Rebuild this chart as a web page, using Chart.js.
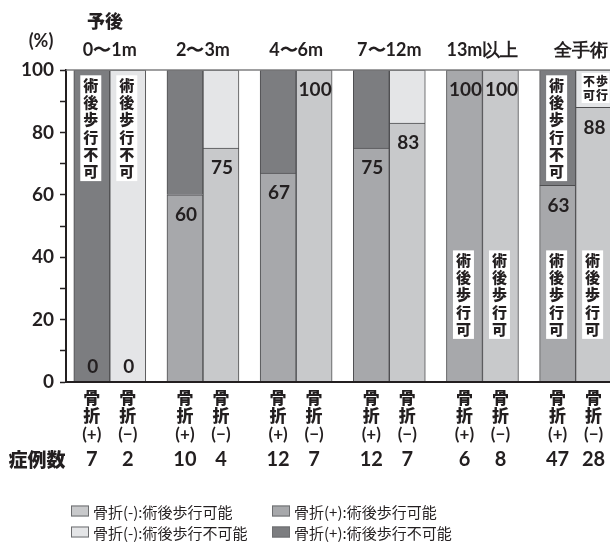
<!DOCTYPE html>
<html><head><meta charset="utf-8">
<script src="https://cdn.jsdelivr.net/npm/chart.js@4"></script>
<style>
html,body{margin:0;padding:0;background:#fff;overflow:hidden;}
#wrap{position:relative;width:640px;height:545px;}
</style></head><body>
<div id="wrap"><canvas id="c" width="640" height="545"></canvas></div>
<script>
// 予後（受傷からの期間）ごとの術後歩行の可否 (%)
const groups = ['0〜1m', '2〜3m', '4〜6m', '7〜12m', '13m以上', '全手術'];
const walkPlus = [0, 60, 67, 75, 100, 63];    // 骨折(+): 術後歩行可能
const walkMinus = [0, 75, 100, 83, 100, 88];  // 骨折(−): 術後歩行可能
const casesPlus = [7, 10, 12, 12, 6, 47];     // 症例数 骨折(+)
const casesMinus = [2, 4, 7, 7, 8, 28];       // 症例数 骨折(−)
const yTickValues = [0, 20, 40, 60, 80, 100];
const seriesLabels = ['骨折(+):術後歩行可能', '骨折(+):術後歩行不可能', '骨折(-):術後歩行可能', '骨折(-):術後歩行不可能'];
// 棒の中の注記: [群, 側, 文言]
const notes = [
  [0, 'plus', '術後歩行不可'], [0, 'minus', '術後歩行不可'],
  [4, 'plus', '術後歩行可'], [4, 'minus', '術後歩行可'],
  [5, 'plus', '術後歩行不可'], [5, 'plus', '術後歩行可'],
  [5, 'minus', '歩行不可'], [5, 'minus', '術後歩行可']
];

const NUM = "Lato, 'Noto Sans', sans-serif";
const CJK = "'Noto Sans CJK JP', 'Noto Sans', sans-serif";
const INK = '#231f20';
const COLORS = ['#a7a8ab', '#7c7d80', '#c8c9cb', '#e4e5e7'];

const pts = arr => arr.map((v, i) => ({x: i, y: v}));
const rest = arr => arr.map((v, i) => ({x: i, y: 100 - v}));

const bar = (label, data, stack, color) => ({
  label, data, stack, backgroundColor: color, borderColor: '#4d4d4f',
  borderWidth: 1, barThickness: 36, borderSkipped: 'start'
});

const overlay = {
  id: 'overlay',
  afterDatasetsDraw(chart) {
    const {ctx, chartArea: ca, scales: {x, y}} = chart;
    const m = i => chart.getDatasetMeta(i).data;
    ctx.save();
    // 枠の上辺
    ctx.strokeStyle = '#7f7f81'; ctx.lineWidth = 1.5;
    ctx.beginPath(); ctx.moveTo(ca.left, ca.top); ctx.lineTo(ca.right, ca.top); ctx.stroke();
    // 下辺
    ctx.strokeStyle = INK; ctx.lineWidth = 2;
    ctx.beginPath(); ctx.moveTo(ca.left, ca.bottom); ctx.lineTo(ca.right, ca.bottom); ctx.stroke();

    ctx.fillStyle = INK; ctx.textAlign = 'center'; ctx.textBaseline = 'middle';
    // 値ラベル
    [[0, walkPlus], [2, walkMinus]].forEach(([di, vals]) => {
      m(di).forEach((el, i) => {
        const v = vals[i];
        const yy = v === 0 ? y.getPixelForValue(0) - 15 : el.y + 20;
        ctx.font = `700 19px ${NUM}`;
        ctx.fillText(String(v), el.x + 1, yy);
      });
    });

    // 注記ボックス
    notes.forEach(([g, side, text]) => {
      const el = m(side === 'plus' ? 0 : 2)[g];
      const cx = el.x - 1;
      const ok = !text.includes('不可');
      if (text === '歩行不可') {
        // 2列の縦書き（右列: 歩行 / 左列: 不可）
        const top = y.getPixelForValue(100) + 3, w = 28, h = 30;
        ctx.fillStyle = '#fff';
        ctx.fillRect(el.x + 2 - w / 2, top, w, h);
        ctx.fillStyle = INK; ctx.font = `900 12px ${CJK}`;
        const cols = [text.slice(0, 2), text.slice(2)];
        cols.forEach((col, ci) => {
          const xx = el.x + 2 + (ci === 0 ? 6.5 : -6.5);
          [...col].forEach((ch, k) => ctx.fillText(ch, xx, top + 8 + k * 14));
        });
        return;
      }
      const chars = [...text];
      const step = 17.3, w = 21, h = chars.length * step + 2;
      const top = ok ? y.getPixelForValue(28) - h / 2 : y.getPixelForValue(98.3);
      ctx.fillStyle = '#fff';
      ctx.fillRect(cx - w / 2, top, w, h);
      ctx.fillStyle = INK; ctx.font = `900 15px ${CJK}`;
      chars.forEach((ch, k) => ctx.fillText(ch, cx, top + 1 + step * (k + 0.5)));
    });

    // 棒の下の見出しと症例数
    ctx.fillStyle = INK;
    [[0, '(+)', casesPlus], [2, '(−)', casesMinus]].forEach(([di, sign, cases]) => {
      m(di).forEach((el, i) => {
        ctx.font = `900 17px ${CJK}`;
        ctx.fillText('骨', el.x, 398);
        ctx.fillText('折', el.x, 416);
        ctx.font = `700 17px ${NUM}`;
        ctx.fillText(sign, el.x, 435);
        ctx.font = `700 20px ${NUM}`;
        ctx.fillText(String(cases[i]), el.x, 460);
      });
    });
    ctx.font = `900 19px ${CJK}`;
    ctx.fillText('症例数', 37, 460);

    // 群の見出し
    groups.forEach((g, i) => {
      ctx.font = `700 18px ${NUM}`;
      let gx = x.getPixelForValue(i);
      if (i === groups.length - 1) gx += 5;
      ctx.fillText(g, gx, 50);
    });
    ctx.font = `900 18px ${CJK}`;
    ctx.fillText('予後', 105, 21);
    ctx.font = `700 18px ${NUM}`;
    ctx.fillText('(%)', 41, 41);

    // 凡例
    const ds = chart.data.datasets;
    const rows = [[2, 0], [3, 1]];
    const colX = [71, 272], rowY = [511, 532];
    ctx.textAlign = 'left';
    ctx.font = `400 15px ${CJK}`;
    rows.forEach((r, ri) => r.forEach((di, ci) => {
      const sx = colX[ci], sy = rowY[ri];
      ctx.fillStyle = ds[di].backgroundColor;
      ctx.fillRect(sx, sy - 5.5, 18, 11);
      ctx.strokeStyle = '#6d6e70'; ctx.lineWidth = 1;
      ctx.strokeRect(sx + 0.5, sy - 5, 17, 10);
      ctx.fillStyle = INK;
      ctx.fillText(ds[di].label, sx + 22, sy + 1);
    }));
    ctx.restore();
  }
};

new Chart(document.getElementById('c'), {
  type: 'bar',
  data: {
    datasets: [
      bar(seriesLabels[0], pts(walkPlus), 'plus', COLORS[0]),
      bar(seriesLabels[1], rest(walkPlus), 'plus', COLORS[1]),
      bar(seriesLabels[2], pts(walkMinus), 'minus', COLORS[2]),
      bar(seriesLabels[3], rest(walkMinus), 'minus', COLORS[3])
    ]
  },
  options: {
    responsive: false,
    animation: false,
    devicePixelRatio: 1,
    layout: {padding: {top: 70, bottom: 163, left: 0, right: 15}},
    plugins: {legend: {display: false}, tooltip: {enabled: false}},
    scales: {
      x: {
        type: 'linear', min: -0.47, max: 5.53, bounds: 'data', offset: false, stacked: true,
        ticks: {display: false, stepSize: 1, includeBounds: false},
        grid: {display: false, offset: false},
        border: {display: false},
        afterFit(s) { s.height = 0; }
      },
      y: {
        min: 0, max: 100, stacked: true,
        afterBuildTicks(s) {
          s.ticks = [];
          for (let v = 0; v <= 100; v += 10) s.ticks.push({value: v});
        },
        ticks: {
          callback: v => yTickValues.includes(v) ? String(v) : '',
          font: {family: NUM, size: 19, weight: 700}, color: INK, padding: 6
        },
        grid: {drawOnChartArea: false, drawTicks: true, tickLength: 6, tickColor: INK, tickWidth: 1.5},
        border: {color: INK, width: 2},
        afterFit(s) { s.width = 66; }
      }
    }
  },
  plugins: [overlay]
});
</script>
</body></html>
